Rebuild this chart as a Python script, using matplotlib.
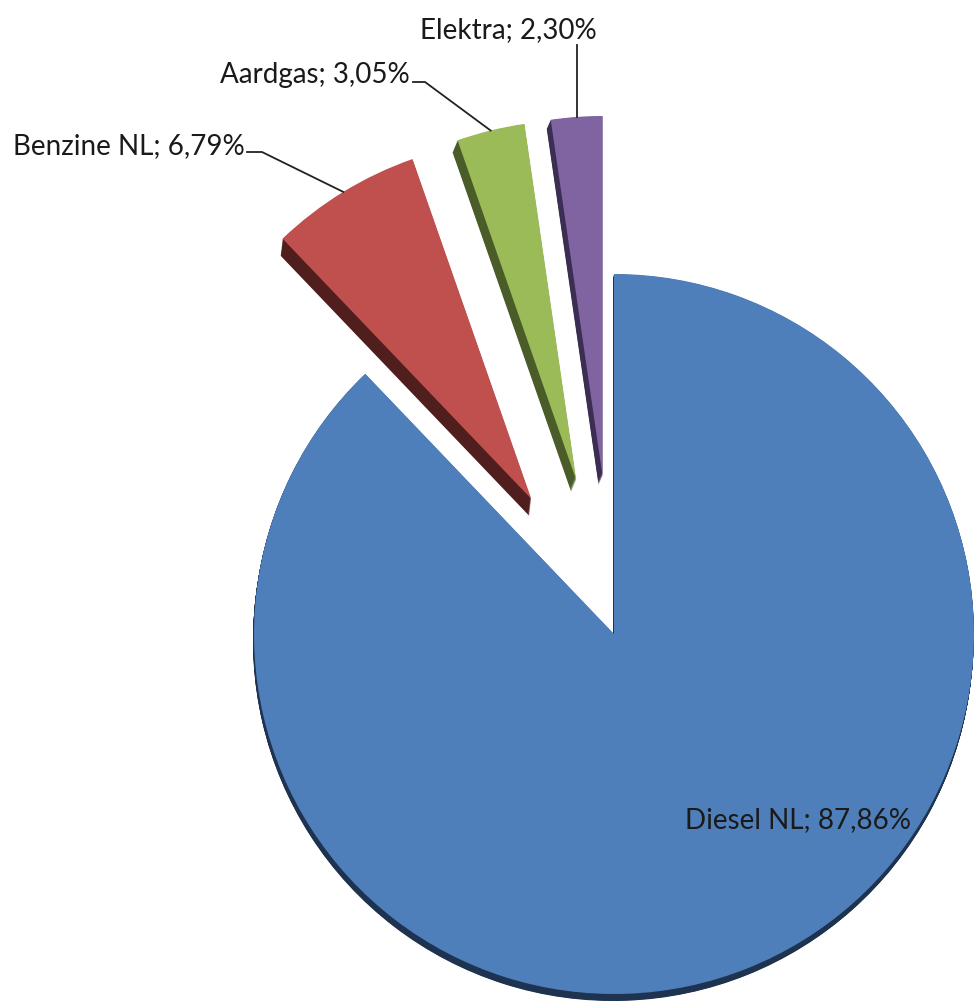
import numpy as np
import matplotlib.pyplot as plt

labels = ['Diesel NL', 'Benzine NL', 'Aardgas', 'Elektra']
shares = [87.86, 6.79, 3.05, 2.30]
explode = [0.0, 0.44, 0.44, 0.44]
top_colors = ['#4E7FBA', '#C0504D', '#9BBB59', '#8064A2']
side_colors = ['#1E3350', '#4F1E1D', '#4A5C27', '#3C2D52']
# dikte van de 3D-rand per taartpunt, in pixels (x, y)
rim = [(-1, -7), (-2, -17), (-5, -12), (-4, -9)]

# pie centre and radius in pixels of the 976x1005 picture
CX, CY, R = 614, 634, 360
W, H = 976, 1005


def px(x, y):
    """Pixelpositie (vanaf linksboven) naar datacoordinaten van de taart."""
    return (x - CX) / R, (CY - y) / R


plt.rcParams['font.family'] = ['Lato', 'DejaVu Sans']

fig = plt.figure(figsize=(W / 100, H / 100), dpi=100)
ax = fig.add_axes([0, 0, 1, 1])

# 3D-rand: een stapel donkere taarten, iets naar beneden verschoven
for t in np.linspace(1, 0, 16, endpoint=False):
    side, _ = ax.pie(shares, explode=explode, colors=side_colors, startangle=90,
                     counterclock=False, wedgeprops=dict(linewidth=0))
    for w, (dx, dy) in zip(side, rim):
        w.set_center((w.center[0] + dx * t / R, w.center[1] + dy * t / R))

wedges, _ = ax.pie(shares, explode=explode, colors=top_colors, startangle=90,
                   counterclock=False, wedgeprops=dict(linewidth=0))


def fmt(name, v):
    return f"{name}; {v:.2f}".replace('.', ',') + '%'


def anchor(w):
    """Midden van de buitenrand van een taartpunt."""
    a = np.deg2rad((w.theta1 + w.theta2) / 2)
    return w.center[0] + w.r * np.cos(a), w.center[1] + w.r * np.sin(a)


txt = dict(fontsize=20, color='#1a1a1a')
line = dict(color='#222222', lw=1.3)

# Diesel: label binnen de taart
ax.text(*px(798, 820), fmt(labels[0], shares[0]), ha='center', va='center', **txt)

# Benzine
ax.text(*px(245, 146), fmt(labels[1], shares[1]), ha='right', va='center', **txt)
p0, p1 = px(247, 152), px(262, 152)
a = anchor(wedges[1])
ax.plot([p0[0], p1[0], a[0]], [p0[1], p1[1], a[1]], **line)

# Aardgas
ax.text(*px(410, 75), fmt(labels[2], shares[2]), ha='right', va='center', **txt)
p0, p1 = px(413, 82), px(425, 82)
a = anchor(wedges[2])
ax.plot([p0[0], p1[0], a[0]], [p0[1], p1[1], a[1]], **line)

# Elektra
ax.text(*px(508, 30), fmt(labels[3], shares[3]), ha='center', va='center', **txt)
a = anchor(wedges[3])
top = px(0, 45)
ax.plot([a[0], a[0]], [top[1], a[1]], **line)

ax.set_xlim(-CX / R, (W - CX) / R)
ax.set_ylim((CY - H) / R, CY / R)
ax.set_aspect('equal')
ax.axis('off')

fig.savefig('out.png', dpi=100, facecolor='white')
